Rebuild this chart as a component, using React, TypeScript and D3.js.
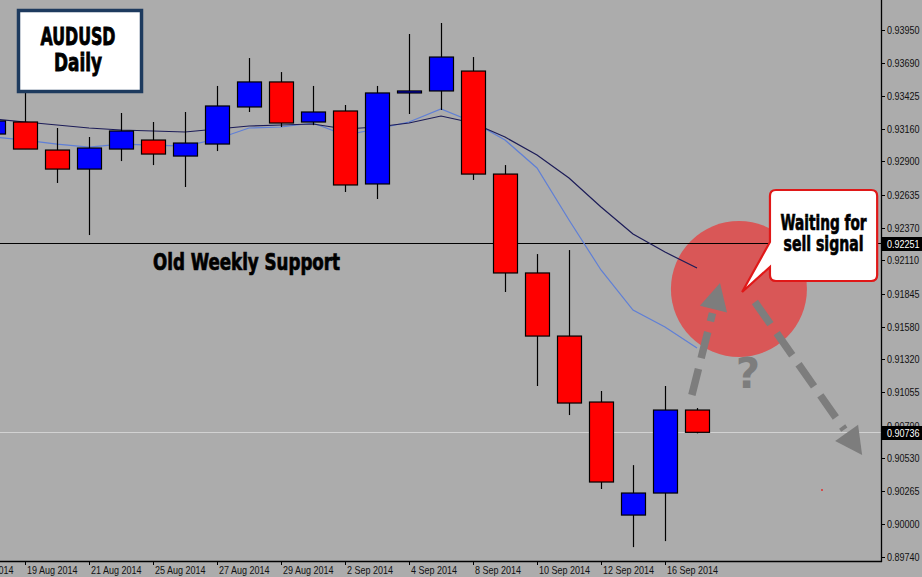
import React from "react";
import * as d3 from "d3";

// ---------- data ----------
const axisDays = [
  "15 Aug 2014", "18 Aug 2014", "19 Aug 2014", "20 Aug 2014", "21 Aug 2014", "22 Aug 2014",
  "25 Aug 2014", "26 Aug 2014", "27 Aug 2014", "28 Aug 2014", "29 Aug 2014", "1 Sep 2014",
  "2 Sep 2014", "3 Sep 2014", "4 Sep 2014", "5 Sep 2014", "8 Sep 2014", "9 Sep 2014",
  "10 Sep 2014", "11 Sep 2014", "12 Sep 2014", "15 Sep 2014", "16 Sep 2014", "17 Sep 2014",
];
const dateLabels = [
  "15 Aug 2014", "19 Aug 2014", "21 Aug 2014", "25 Aug 2014", "27 Aug 2014", "29 Aug 2014",
  "2 Sep 2014", "4 Sep 2014", "8 Sep 2014", "10 Sep 2014", "12 Sep 2014", "16 Sep 2014",
];
const candleDates = axisDays.slice(1);
const opens = [0.93119, 0.93215, 0.92991, 0.92839, 0.92999, 0.93071, 0.92943, 0.93039, 0.93335, 0.93535, 0.93215, 0.93303, 0.92720, 0.93447, 0.93463, 0.93622, 0.92799, 0.92009, 0.91505, 0.90978, 0.90075, 0.90251, 0.90914];
const highs = [0.93223, 0.93560, 0.93167, 0.93095, 0.93287, 0.93215, 0.93295, 0.93503, 0.93726, 0.93614, 0.93503, 0.93351, 0.93503, 0.93918, 0.94006, 0.93734, 0.92871, 0.92160, 0.92192, 0.91066, 0.90474, 0.91106, 0.90930];
const lows = [0.93119, 0.92999, 0.92728, 0.92312, 0.92903, 0.92871, 0.92696, 0.92983, 0.93295, 0.93175, 0.93190, 0.92656, 0.92600, 0.93279, 0.93311, 0.92752, 0.91857, 0.91106, 0.90874, 0.90283, 0.89819, 0.89867, 0.90728];
const closes = [0.93223, 0.92999, 0.92839, 0.93007, 0.93143, 0.92959, 0.93047, 0.93343, 0.93535, 0.93207, 0.93295, 0.92712, 0.93447, 0.93463, 0.93734, 0.92799, 0.92009, 0.91505, 0.90970, 0.90339, 0.90251, 0.90914, 0.90736];
const slowMA = [0.93239, 0.93215, 0.93191, 0.93167, 0.93151, 0.93143, 0.93135, 0.93159, 0.93183, 0.93191, 0.93199, 0.93159, 0.93175, 0.93207, 0.93263, 0.93207, 0.93095, 0.92951, 0.92768, 0.92536, 0.92320, 0.92176, 0.92049];
const fastMA = [0.93095, 0.93071, 0.93039, 0.93015, 0.93039, 0.93031, 0.93023, 0.93079, 0.93167, 0.93175, 0.93207, 0.93111, 0.93159, 0.93215, 0.93319, 0.93215, 0.93071, 0.92848, 0.92432, 0.92033, 0.91713, 0.91577, 0.91410];
const priceTicks = [0.9395, 0.9369, 0.93425, 0.9316, 0.929, 0.92635, 0.9237, 0.9211, 0.91845, 0.9158, 0.9132, 0.91055, 0.9079, 0.9053, 0.90265, 0.9, 0.8974];
const supportLevel = 0.92251;
const lastPrice = 0.90736;

// annotation anchors in (bar index, price)
const circleCenter = [24.31, 0.91881];
const arrowUp = [[22.84, 0.91034], [23.72, 0.91929]];
const arrowDown = [[24.81, 0.91777], [28.16, 0.90555]];
const questionAt = [24.59, 0.9109];
const calloutBox = [[25.28, 0.92672], [28.63, 0.91945]];
const calloutTip = [24.41, 0.91857];

const W = 922;
const H = 577;
const plotRight = 881;
const plotBottom = 561;
const axisFont = "'Liberation Sans', Arial, sans-serif";
const boldFont = "'DejaVu Sans Condensed', 'Liberation Sans', sans-serif";

export default function App() {
  const xDay = d3.scalePoint<string>().domain(axisDays).range([-39, 697]);
  const xIdx = d3.scaleLinear().domain([0, axisDays.length - 1]).range([-39, 697]);
  const y = d3.scaleLinear().domain([0.8974, 0.9395]).range([557, 30]);

  const candleW = 24;
  const maLine = d3
    .line<number>()
    .x((_, i) => xDay(candleDates[i]) as number)
    .y((v) => y(v));

  const arrow = (pts: number[][], color: string) => {
    const x0 = xIdx(pts[0][0]);
    const y0 = y(pts[0][1]);
    const x1 = xIdx(pts[1][0]);
    const y1 = y(pts[1][1]);
    const dx = x1 - x0;
    const dy = y1 - y0;
    const len = Math.hypot(dx, dy);
    const ux = dx / len;
    const uy = dy / len;
    const headLen = 27;
    const headHalf = 14;
    const bx = x1 - ux * headLen;
    const by = y1 - uy * headLen;
    const sx = bx - ux * 4;
    const sy = by - uy * 4;
    const p1 = [bx - uy * headHalf, by + ux * headHalf];
    const p2 = [bx + uy * headHalf, by - ux * headHalf];
    return (
      <g>
        <line x1={x0} y1={y0} x2={sx} y2={sy} stroke={color} strokeWidth={7.5} strokeDasharray="27 11" />
        <polygon points={`${x1},${y1} ${p1[0]},${p1[1]} ${p2[0]},${p2[1]}`} fill={color} />
      </g>
    );
  };

  const cbx0 = xIdx(calloutBox[0][0]);
  const cbx1 = xIdx(calloutBox[1][0]);
  const cby0 = y(calloutBox[0][1]);
  const cby1 = y(calloutBox[1][1]);
  const tipX = xIdx(calloutTip[0]);
  const tipY = y(calloutTip[1]);
  const r = 6;
  const calloutPath =
    `M${cbx0 + r},${cby0} L${cbx1 - r},${cby0} Q${cbx1},${cby0} ${cbx1},${cby0 + r} ` +
    `L${cbx1},${cby1 - r} Q${cbx1},${cby1} ${cbx1 - r},${cby1} L${cbx0 + r},${cby1} ` +
    `Q${cbx0},${cby1} ${cbx0},${cby1 - r} L${cbx0},${cby0 + 77} L${tipX},${tipY} L${cbx0},${cby0 + 52} ` +
    `L${cbx0},${cby0 + r} Q${cbx0},${cby0} ${cbx0 + r},${cby0} Z`;
  const calloutCx = (cbx0 + cbx1) / 2;

  const axisText = (x: number, yy: number, txt: string, fill: string) => (
    <text
      transform={`translate(${x},${yy}) scale(0.82,1)`}
      fontFamily={axisFont}
      fontSize={11}
      fill={fill}
    >
      {txt}
    </text>
  );

  return (
    <div style={{ position: "absolute", left: 0, top: 0 }}>
      <svg width={W} height={H} style={{ display: "block" }}>
        <rect x={0} y={0} width={W} height={H} fill="#acacac" />

        {/* red circle highlight */}
        <circle cx={xIdx(circleCenter[0])} cy={y(circleCenter[1])} r={68} fill="#d95757" />

        {/* support line & last price line */}
        <line x1={0} x2={plotRight} y1={Math.round(y(supportLevel)) + 0.5} y2={Math.round(y(supportLevel)) + 0.5} stroke="#000" strokeWidth={1} />
        <line x1={0} x2={plotRight} y1={Math.round(y(lastPrice)) + 0.5} y2={Math.round(y(lastPrice)) + 0.5} stroke="#d2d2d2" strokeWidth={1} />

        {/* moving averages */}
        <path d={maLine(fastMA) || ""} fill="none" stroke="#5f7fd6" strokeWidth={1.2} />
        <path d={maLine(slowMA) || ""} fill="none" stroke="#1c1c58" strokeWidth={1.2} />

        {/* candles */}
        {candleDates.map((d, i) => {
          const cx = Math.round(xDay(d) as number);
          const up = closes[i] >= opens[i];
          const top = y(Math.max(opens[i], closes[i]));
          const bot = y(Math.min(opens[i], closes[i]));
          return (
            <g key={d}>
              <line x1={cx + 0.5} x2={cx + 0.5} y1={y(highs[i])} y2={y(lows[i])} stroke="#000" strokeWidth={1.2} />
              <rect
                x={cx - candleW / 2 + 0.5}
                y={top}
                width={candleW}
                height={Math.max(1.5, bot - top)}
                fill={up ? "#0000ff" : "#ff0000"}
                stroke="#000"
                strokeWidth={1.2}
              />
            </g>
          );
        })}

        {/* annotation text */}
        <text
          x={153}
          y={y(supportLevel) + 27}
          fontFamily={boldFont}
          fontWeight="bold"
          fontSize={23}
          fill="#000"
          stroke="#000"
          strokeWidth={0.7}
          textLength={187}
          lengthAdjust="spacingAndGlyphs"
        >
          Old Weekly Support
        </text>

        {/* arrows */}
        {arrow(arrowUp, "#7d7d7d")}
        {arrow(arrowDown, "#7d7d7d")}
        <text
          x={xIdx(questionAt[0])}
          y={y(questionAt[1])}
          textAnchor="middle"
          fontFamily="'DejaVu Sans', sans-serif"
          fontWeight="bold"
          fontSize={42}
          fill="#7d7d7d"
        >
          ?
        </text>
        <circle cx={822} cy={490} r={1} fill="#e03030" />

        {/* callout */}
        <path d={calloutPath} fill="#fff" stroke="#e01818" strokeWidth={2.2} strokeLinejoin="miter" />
        <text x={calloutCx} y={cby0 + 40} textAnchor="middle" fontFamily={boldFont} fontWeight="bold" fontSize={22} fill="#000" stroke="#000" strokeWidth={0.7} textLength={86} lengthAdjust="spacingAndGlyphs">
          Waiting for
        </text>
        <text x={calloutCx} y={cby0 + 61} textAnchor="middle" fontFamily={boldFont} fontWeight="bold" fontSize={22} fill="#000" stroke="#000" strokeWidth={0.7} textLength={80} lengthAdjust="spacingAndGlyphs">
          sell signal
        </text>

        {/* title box */}
        <rect x={18.5} y={10.5} width={123} height={81} fill="#fff" stroke="#1d3a5e" strokeWidth={3.5} />
        <text x={78} y={45} textAnchor="middle" fontFamily={boldFont} fontWeight="bold" fontSize={24} fill="#000" stroke="#000" strokeWidth={0.8} textLength={75} lengthAdjust="spacingAndGlyphs">
          AUDUSD
        </text>
        <text x={78} y={71} textAnchor="middle" fontFamily={boldFont} fontWeight="bold" fontSize={24} fill="#000" stroke="#000" strokeWidth={0.8} textLength={48} lengthAdjust="spacingAndGlyphs">
          Daily
        </text>

        {/* axes */}
        <rect x={plotRight + 1} y={0} width={W - plotRight} height={H} fill="#acacac" />
        <rect x={0} y={plotBottom + 1} width={W} height={H - plotBottom} fill="#acacac" />
        <line x1={plotRight + 0.5} x2={plotRight + 0.5} y1={0} y2={plotBottom + 1} stroke="#000" strokeWidth={1.3} />
        <line x1={0} x2={plotRight + 1} y1={plotBottom + 0.5} y2={plotBottom + 0.5} stroke="#000" strokeWidth={1.3} />

        {priceTicks.map((v) => (
          <g key={v}>
            <line x1={plotRight} x2={plotRight + 4} y1={Math.round(y(v)) + 0.5} y2={Math.round(y(v)) + 0.5} stroke="#000" />
            {axisText(887, y(v) + 4, v.toFixed(5), "#111")}
          </g>
        ))}

        {[supportLevel, lastPrice].map((v) => (
          <g key={"lbl" + v}>
            <rect x={plotRight + 1} y={Math.round(y(v)) - 6} width={W - plotRight} height={14} fill="#000" />
            {axisText(887, y(v) + 5, v.toFixed(5), "#fff")}
          </g>
        ))}

        {dateLabels.map((d) => {
          const x = Math.round(xDay(d) as number);
          return (
            <g key={d}>
              <line x1={x + 0.5} x2={x + 0.5} y1={plotBottom} y2={plotBottom + 4} stroke="#000" />
              {axisText(x + 2, 574, d, "#111")}
            </g>
          );
        })}
      </svg>
    </div>
  );
}
